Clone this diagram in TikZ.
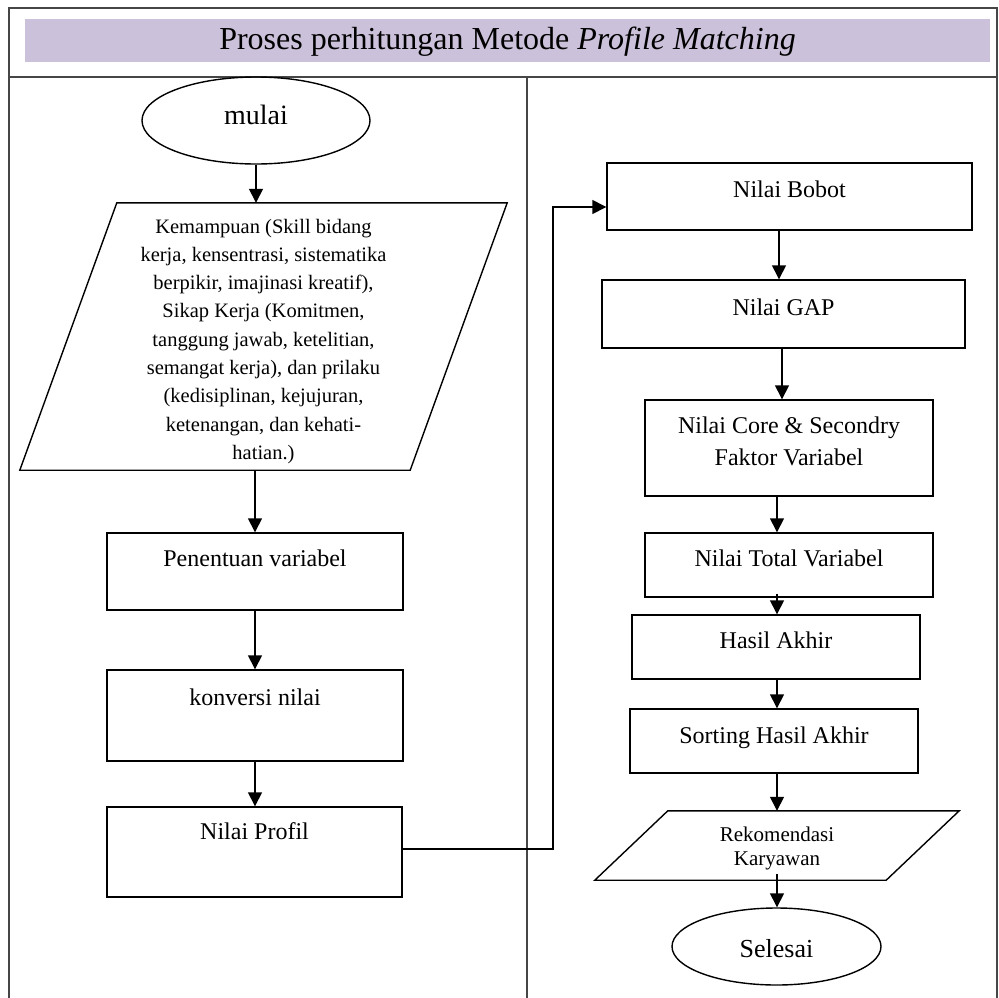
\documentclass[tikz,border=0pt]{standalone}
\usepackage{fontspec}
\setmainfont{Liberation Serif}
\usetikzlibrary{arrows.meta,shapes.geometric}
\definecolor{hdr}{RGB}{204,193,218}
\definecolor{framecol}{RGB}{70,70,70}
% text raised by #1 above the node centre, reported with no height or depth
\newcommand{\oneline}[2]{\raisebox{#1}[0pt][0pt]{#2}}
\newcommand{\mlines}[2]{\raisebox{#1}[0pt][0pt]{\vtop{\halign{\hfil##\hfil\cr #2\crcr}}}}
\begin{document}
\begin{tikzpicture}[x=1pt,y=-1pt,
  shapeline/.style={draw=black, line width=1.4pt},
  box/.style={shapeline, rectangle, inner sep=0pt, font=\fontsize{24}{32}\selectfont},
  oval/.style={shapeline, ellipse, inner sep=0pt},
  para/.style={draw=none, rectangle, inner sep=0pt},
  arr/.style={draw=black, line width=1.4pt, -{Triangle[length=14pt,width=14pt]}},
  frameline/.style={draw=framecol, line width=1.2pt}]
\useasboundingbox (0,0) rectangle (998,998);
% frame
\fill[hdr] (25,19) rectangle (990,62);
\draw[frameline] (9,998) -- (9,8) -- (997,8) -- (997,998);
\draw[frameline] (9,77) -- (997,77);
\draw[frameline] (527,77) -- (527,998);
\node[anchor=base, inner sep=0pt, font=\fontsize{32}{38}\selectfont] (title) at (507.5,49) {Proses perhitungan Metode \textit{Profile Matching}};

% left column
\node[oval, minimum width=228pt, minimum height=87pt, font=\fontsize{28}{32}\selectfont] (mulai) at (256,120.5) {\oneline{-3.5pt}{mulai}};
\node[para, minimum width=390pt, minimum height=267pt, font=\fontsize{20.5}{28.3}\selectfont] (k) at (263.5,336.5)
  {\mlines{103.5pt}{Kemampuan (Skill bidang\cr kerja, kensentrasi, sistematika\cr berpikir, imajinasi kreatif),\cr Sikap Kerja (Komitmen,\cr tanggung jawab, ketelitian,\cr semangat kerja), dan prilaku\cr (kedisiplinan, kejujuran,\cr ketenangan, dan kehati-\cr hatian.)}};
\draw[shapeline] ([xshift=48.5pt]k.north west) -- ([xshift=48.5pt]k.north east) -- ([xshift=-48.5pt]k.south east) -- ([xshift=-48.5pt]k.south west) -- cycle;
\node[box, minimum width=296pt, minimum height=77pt] (pv) at (255,571.5) {\oneline{5.5pt}{Penentuan variabel}};
\node[box, minimum width=296pt, minimum height=91pt] (kn) at (255,715.5) {\oneline{10.5pt}{konversi nilai}};
\node[box, minimum width=295pt, minimum height=90pt] (np) at (254.5,852) {\oneline{13pt}{Nilai Profil}};

% right column
\node[box, minimum width=365pt, minimum height=67pt] (nb) at (789.5,196.5) {\oneline{-0.5pt}{Nilai Bobot}};
\node[box, minimum width=363pt, minimum height=68pt] (ng) at (783.5,314) {\oneline{-1pt}{Nilai GAP}};
\node[box, minimum width=288pt, minimum height=96pt] (nc) at (789,448) {\mlines{15pt}{Nilai Core \& Secondry\cr Faktor Variabel}};
\node[box, minimum width=288pt, minimum height=64pt] (nt) at (789,565) {\oneline{-1pt}{Nilai Total Variabel}};
\node[box, minimum width=288pt, minimum height=64pt] (nh) at (776,647) {\oneline{-1pt}{Hasil Akhir}};
\node[box, minimum width=288pt, minimum height=64pt] (ns) at (774,741) {\oneline{-2pt}{Sorting Hasil Akhir}};
\node[para, minimum width=291pt, minimum height=69pt, font=\fontsize{21}{24}\selectfont] (rk) at (777,845.5) {\mlines{4.5pt}{Rekomendasi\cr Karyawan}};
\draw[shapeline] ([xshift=36.5pt]rk.north west) -- ([xshift=36.5pt]rk.north east) -- ([xshift=-36.5pt]rk.south east) -- ([xshift=-36.5pt]rk.south west) -- cycle;
\node[oval, minimum width=209pt, minimum height=77pt, font=\fontsize{26}{30}\selectfont] (sl) at (776.5,946.5) {\oneline{-10.5pt}{Selesai}};

% connectors
\coordinate (bend) at (553,849);
\draw[arr] (mulai.south) -- (mulai.south |- k.north);
\draw[arr] (pv.north |- k.south) -- (pv.north);
\draw[arr] (pv.south) -- (kn.north);
\draw[arr] (kn.south) -- (kn.south |- np.north);
\draw[arr] ([yshift=3pt]np.east) -- (bend) |- ([yshift=-10.5pt]nb.west);
\draw[arr] ([xshift=-10.5pt]nb.south) -- ([xshift=-10.5pt]nb.south |- ng.north);
\draw[arr] ([xshift=-1.5pt]ng.south) -- ([xshift=-1.5pt]ng.south |- nc.north);
\draw[arr] ([xshift=-12pt]nc.south) -- ([xshift=-12pt]nc.south |- nt.north);
\draw[arr] ([xshift=-12pt,yshift=4pt]nt.south) -- ([xshift=-12pt]nt.south |- nh.north);
\draw[arr] ([xshift=1pt]nh.south) -- ([xshift=1pt]nh.south |- ns.north);
\draw[arr] ([xshift=3pt]ns.south) -- ([xshift=3pt]ns.south |- rk.north);
\draw[arr] ([yshift=6pt]rk.south) -- (rk.south |- sl.north);
\end{tikzpicture}
\end{document}
